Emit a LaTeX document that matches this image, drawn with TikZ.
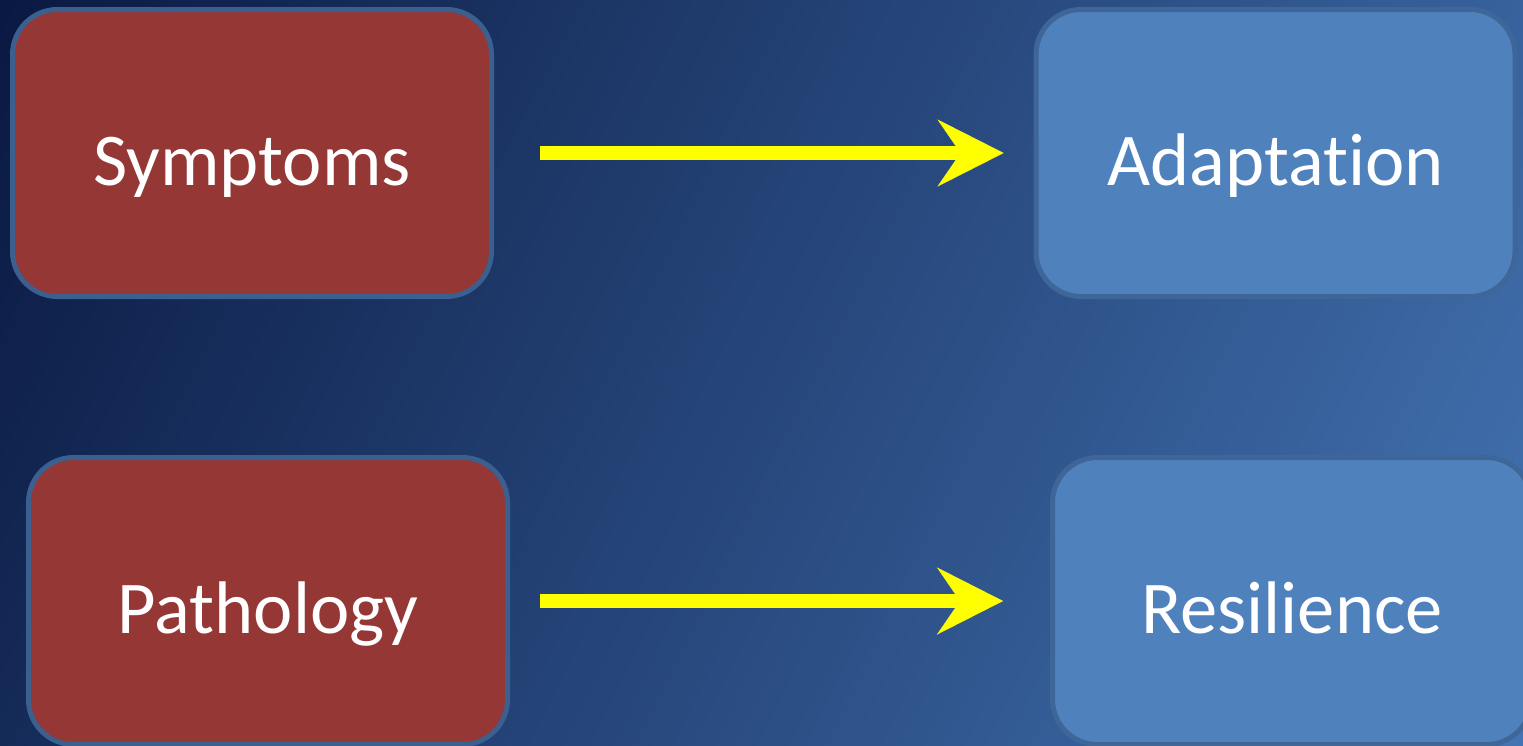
\documentclass[tikz,border=0pt]{standalone}
\usepackage{fontspec}
\setmainfont{Carlito}[Ligatures={NoCommon,NoContextual}]
\usetikzlibrary{arrows.meta}
\definecolor{bgA}{HTML}{0A1942}
\definecolor{bgB}{HTML}{26467A}
\definecolor{bgC}{HTML}{4373B2}
\definecolor{redfill}{HTML}{953735}
\definecolor{bluefill}{HTML}{4F81BD}
\definecolor{redborder}{HTML}{3B5F8E}
\definecolor{blueborder}{HTML}{3F6698}
\definecolor{arrowyellow}{HTML}{FFFF00}
\pgfdeclarehorizontalshading{bgshade}{100bp}{color(0bp)=(bgA); color(16.6bp)=(bgA); color(50bp)=(bgB); color(83.4bp)=(bgC); color(100bp)=(bgC)}
\begin{document}
\begin{tikzpicture}[x=1pt,y=-1pt,
  box/.style={rounded corners=45pt, line width=5pt, minimum width=479pt,
    minimum height=287pt, inner sep=0pt, text=white,
    font=\fontsize{74.5}{90}\selectfont, text height=64pt, text depth=0pt},
  redbox/.style={box, fill=redfill, draw=redborder},
  bluebox/.style={box, fill=bluefill, draw=blueborder},
  flow/.style={draw=arrowyellow, line width=13.5pt,
    -{Stealth[length=66pt, width=67pt, inset=23pt, line width=0.01pt]}}
]
\useasboundingbox (0,0) rectangle (1523,745);
\shade[shading=bgshade, shading angle=-26.07] (0,0) rectangle (1523,745);

\node[redbox]  (sym) at (252,153)    {Symptoms};
\node[bluebox] (ada) at (1275.5,153) {Adaptation};
\node[redbox]  (pat) at (268,601)    {Pathology};
\node[bluebox] (res) at (1292,601)   {Resilience};

\draw[flow, shorten <=46pt, shorten >=30pt] (sym.east) -- (ada.west);
\draw[flow, shorten <=30pt, shorten >=47pt] (pat.east) -- (res.west);
\end{tikzpicture}
\end{document}
